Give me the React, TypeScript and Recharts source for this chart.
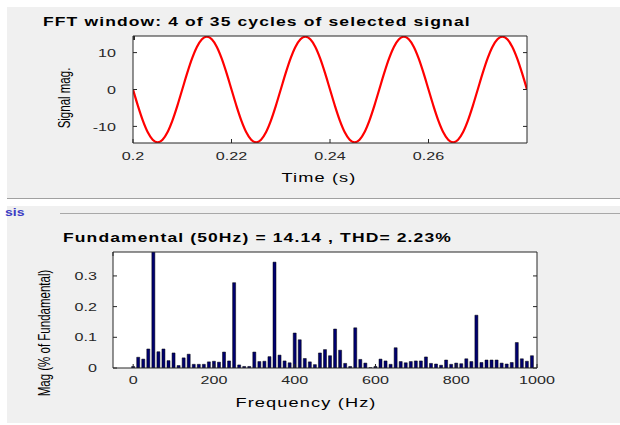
import React from 'react'
import {
  LineChart, Line, BarChart, Bar, XAxis, YAxis, CartesianGrid,
} from 'recharts'

// time window (s) and signal samples
const windowTime = [
  0.2, 0.201, 0.202, 0.203, 0.204, 0.205, 0.206, 0.207, 0.208, 0.209,
  0.21, 0.211, 0.212, 0.213, 0.214, 0.215, 0.216, 0.217, 0.218, 0.219,
  0.22, 0.221, 0.222, 0.223, 0.224, 0.225, 0.226, 0.227, 0.228, 0.229,
  0.23, 0.231, 0.232, 0.233, 0.234, 0.235, 0.236, 0.237, 0.238, 0.239,
  0.24, 0.241, 0.242, 0.243, 0.244, 0.245, 0.246, 0.247, 0.248, 0.249,
  0.25, 0.251, 0.252, 0.253, 0.254, 0.255, 0.256, 0.257, 0.258, 0.259,
  0.26, 0.261, 0.262, 0.263, 0.264, 0.265, 0.266, 0.267, 0.268, 0.269,
  0.27, 0.271, 0.272, 0.273, 0.274, 0.275, 0.276, 0.277, 0.278, 0.279,
  0.28,
]
const signalMag = [
  0, -4.42, -8.41, -11.57, -13.6, -14.3, -13.6, -11.57, -8.41, -4.42,
  0, 4.42, 8.41, 11.57, 13.6, 14.3, 13.6, 11.57, 8.41, 4.42,
  0, -4.42, -8.41, -11.57, -13.6, -14.3, -13.6, -11.57, -8.41, -4.42,
  0, 4.42, 8.41, 11.57, 13.6, 14.3, 13.6, 11.57, 8.41, 4.42,
  0, -4.42, -8.41, -11.57, -13.6, -14.3, -13.6, -11.57, -8.41, -4.42,
  0, 4.42, 8.41, 11.57, 13.6, 14.3, 13.6, 11.57, 8.41, 4.42,
  0, -4.42, -8.41, -11.57, -13.6, -14.3, -13.6, -11.57, -8.41, -4.42,
  0, 4.42, 8.41, 11.57, 13.6, 14.3, 13.6, 11.57, 8.41, 4.42,
  0,
]
const timeTicks = [0.2, 0.22, 0.24, 0.26]
const signalTicks = [-10, 0, 10]

// spectrum: frequency (Hz) and magnitude (% of fundamental)
const freqHz = [
  0, 12.5, 25, 37.5, 50, 62.5, 75, 87.5, 100, 112.5,
  125, 137.5, 150, 162.5, 175, 187.5, 200, 212.5, 225, 237.5,
  250, 262.5, 275, 287.5, 300, 312.5, 325, 337.5, 350, 362.5,
  375, 387.5, 400, 412.5, 425, 437.5, 450, 462.5, 475, 487.5,
  500, 512.5, 525, 537.5, 550, 562.5, 575, 587.5, 600, 612.5,
  625, 637.5, 650, 662.5, 675, 687.5, 700, 712.5, 725, 737.5,
  750, 762.5, 775, 787.5, 800, 812.5, 825, 837.5, 850, 862.5,
  875, 887.5, 900, 912.5, 925, 937.5, 950, 962.5, 975, 987.5,
]
const magPct = [
  0.005, 0.035, 0.029, 0.062, 100, 0.053, 0.062, 0.024, 0.049, 0.008,
  0.033, 0.045, 0.012, 0.012, 0.012, 0.02, 0.022, 0.019, 0.052, 0.023,
  0.278, 0.01, 0.005, 0.005, 0.052, 0.021, 0.022, 0.037, 0.345, 0.042,
  0.023, 0.017, 0.114, 0.092, 0.031, 0.02, 0.011, 0.049, 0.06, 0.04,
  0.127, 0.058, 0.015, 0.005, 0.131, 0.028, 0.016, 0.001, 0.005, 0.029,
  0.023, 0.012, 0.066, 0.021, 0.017, 0.021, 0.023, 0.023, 0.036, 0.015,
  0.013, 0.009, 0.026, 0.012, 0.016, 0.014, 0.03, 0.021, 0.172, 0.018,
  0.026, 0.026, 0.026, 0.016, 0.013, 0.018, 0.083, 0.03, 0.022, 0.04,
]
const freqTicks = [0, 200, 400, 600, 800, 1000]
const magTicks = [0, 0.1, 0.2, 0.3]

const FONT = '"Liberation Sans", Arial, Helvetica, sans-serif'
const SX = 1.4 // the screenshot is stretched sideways
const AX = '#262626'

function Tick(props: any) {
  const { x, y, payload, anchor } = props
  return (
    <text
      transform={`translate(${x},${y}) scale(${SX},1)`}
      textAnchor={anchor}
      dy="0.36em"
      fontSize={11.5}
      fontFamily={FONT}
      fill={AX}
    >
      {String(payload.value)}
    </text>
  )
}
const LeftTick = (p: any) => <Tick {...p} anchor="end" />
const BottomTick = (p: any) => <Tick {...p} anchor="middle" />
const NoTick = () => null

function Txt({ x, y, size = 12, bold = false, align = 'left', rotate = false, spacing = 0, color = '#000', children }: any) {
  const base = align === 'left' ? 'translateY(-50%)' : 'translate(-50%,-50%)'
  return (
    <div
      style={{
        position: 'absolute', left: x, top: y, whiteSpace: 'nowrap', lineHeight: 1,
        fontFamily: FONT, fontSize: size, fontWeight: bold ? 700 : 400, color,
        letterSpacing: spacing,
        transformOrigin: align === 'left' ? 'left center' : 'center center',
        transform: `${base} scaleX(${SX})${rotate ? ' rotate(-90deg)' : ''}`,
      }}
    >
      {children}
    </div>
  )
}

const axisStroke = { stroke: AX, strokeWidth: 1 }

export default function App() {
  const wave = windowTime.map((t, i) => ({ t, v: signalMag[i] }))
  const spectrum = freqHz.map((f, i) => ({ f, m: magPct[i] }))

  return (
    <div style={{ position: 'absolute', left: 0, top: 0, width: 620, height: 425, background: '#fff', overflow: 'hidden' }}>
      <div style={{ position: 'absolute', left: 7, top: 7, width: 613, height: 191, background: '#f0f0f0' }} />
      <div style={{ position: 'absolute', left: 7, top: 198, width: 613, height: 1, background: '#a0a0a0' }} />
      <div style={{ position: 'absolute', left: 7, top: 206, width: 613, height: 217, background: '#f0f0f0' }} />
      <div style={{ position: 'absolute', left: 60, top: 213, width: 560, height: 1, background: '#a8a8a8' }} />
      <Txt x={5} y={213} size={10} bold color="#3b3bc4">sis</Txt>

      <div style={{ position: 'absolute', left: 0, top: 0 }}>
        <LineChart width={620} height={200} data={wave} margin={{ top: 31, right: 83, bottom: 27, left: 93 }}>
          <CartesianGrid horizontal={false} vertical={false} fill="#fff" />
          <XAxis dataKey="t" type="number" domain={[0.2, 0.28]} ticks={timeTicks} interval={0}
            allowDataOverflow height={30} tickSize={-4} tickMargin={17} axisLine={axisStroke}
            tickLine={axisStroke} tick={BottomTick} />
          <XAxis xAxisId="t" orientation="top" type="number" domain={[0.2, 0.28]} ticks={timeTicks}
            interval={0} allowDataOverflow height={5} tickSize={-4} axisLine={axisStroke}
            tickLine={axisStroke} tick={NoTick} />
          <YAxis type="number" domain={[-14.5, 14.5]} ticks={signalTicks} interval={0} allowDataOverflow
            width={40} tickSize={-4} tickMargin={21} axisLine={axisStroke} tickLine={axisStroke} tick={LeftTick} />
          <YAxis yAxisId="r" orientation="right" type="number" domain={[-14.5, 14.5]} ticks={signalTicks}
            interval={0} allowDataOverflow width={10} tickSize={-4} axisLine={axisStroke}
            tickLine={axisStroke} tick={NoTick} />
          <Line dataKey="v" type="monotone" stroke="#ff0000" strokeWidth={2.2} dot={false} isAnimationActive={false} />
        </LineChart>
      </div>

      <div style={{ position: 'absolute', left: 0, top: 225 }}>
        <BarChart width={620} height={200} data={spectrum} margin={{ top: 22, right: 73, bottom: 27, left: 73 }}>
          <CartesianGrid horizontal={false} vertical={false} fill="#fff" />
          <XAxis dataKey="f" type="number" domain={[-50, 1000]} ticks={freqTicks} interval={0}
            allowDataOverflow height={30} tickSize={-4} tickMargin={16} axisLine={axisStroke}
            tickLine={axisStroke} tick={BottomTick} />
          <XAxis xAxisId="t" orientation="top" type="number" domain={[-50, 1000]} ticks={freqTicks}
            interval={0} allowDataOverflow height={5} tickSize={-4} axisLine={axisStroke}
            tickLine={axisStroke} tick={NoTick} />
          <YAxis type="number" domain={[0, 0.378]} ticks={magTicks} interval={0} allowDataOverflow
            width={40} tickSize={-4} tickMargin={20} axisLine={axisStroke} tickLine={axisStroke} tick={LeftTick} />
          <YAxis yAxisId="r" orientation="right" type="number" domain={[0, 0.378]} ticks={magTicks}
            interval={0} allowDataOverflow width={10} tickSize={-4} axisLine={axisStroke}
            tickLine={axisStroke} tick={NoTick} />
          <Bar dataKey="m" barSize={3} fill="#000070" stroke="#000" strokeWidth={0.5} isAnimationActive={false} />
        </BarChart>
      </div>

      <Txt x={42.5} y={22} size={12.5} spacing={0.8} bold>FFT window: 4 of 35 cycles of selected signal</Txt>
      <Txt x={319} y={177} size={13} spacing={0.8} align="center">Time (s)</Txt>
      <Txt x={65} y={98} size={11.5} align="center" rotate>Signal mag.</Txt>

      <Txt x={63} y={238} size={12.5} spacing={0.8} bold>Fundamental (50Hz) = 14.14 , THD= 2.23%</Txt>
      <Txt x={306} y={402} size={13} spacing={0.8} align="center">Frequency (Hz)</Txt>
      <Txt x={45} y={333} size={11.5} align="center" rotate>Mag (% of Fundamental)</Txt>
    </div>
  )
}
